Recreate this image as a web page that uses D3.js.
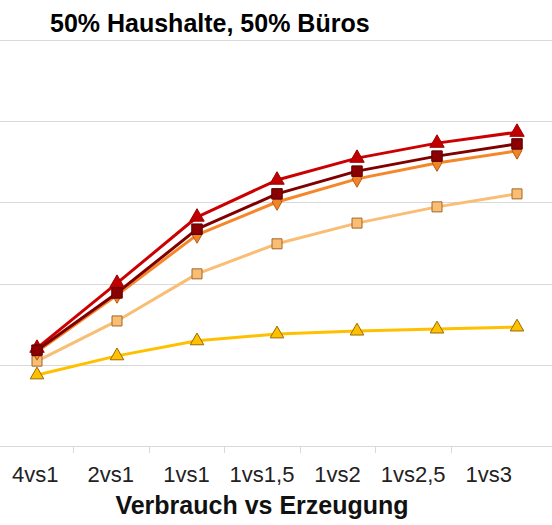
<!DOCTYPE html>
<html lang="de">
<head>
  <meta charset="UTF-8">
  <title>50% Haushalte, 50% Büros</title>
  <script src="https://cdn.jsdelivr.net/npm/d3@7"></script>
  <style>
    body { margin: 0; background: #fff; }
    svg { display: block; font-family: "Liberation Sans", Arial, sans-serif; }
    .grid line { stroke: #d9d9d9; stroke-width: 1; }
    .x-label { font-size: 22px; fill: #222; text-anchor: middle; }
  </style>
</head>
<body>
  <div id="chart"></div>
  <script>
    // Data
    const categories = ['4vs1', '2vs1', '1vs1', '1vs1,5', '1vs2', '1vs2,5', '1vs3'];
    const redTriangle = [24.1, 40.1, 56.4, 65.5, 70.9, 74.6, 77.3];
    const darkRedSquare = [23.6, 37.7, 53.4, 62.1, 67.7, 71.4, 74.4];
    const orangeDiamond = [23.2, 37.2, 52.0, 60.1, 65.8, 69.7, 72.7];
    const lightSquare = [20.9, 30.8, 42.4, 49.8, 54.9, 58.9, 62.1];
    const yellowTriangle = [17.5, 22.2, 25.9, 27.6, 28.3, 28.8, 29.3];
    const gridTicks = [0, 20, 40, 60, 80, 100];

    const width = 552, height = 525;

    // drawing order: bottom first
    const series = [
      { values: yellowTriangle, color: '#ffc000', fill: '#ffc000', stroke: '#9a6a00', symbol: d3.symbolTriangle, size: 80 },
      { values: lightSquare, color: '#f9bd73', fill: '#f9bd73', stroke: '#a0662a', symbol: d3.symbolSquare, size: 100 },
      { values: orangeDiamond, color: '#f5862a', fill: '#f08426', stroke: '#b85a12', symbol: d3.symbolDiamond, size: 80 },
      { values: redTriangle, color: '#cc0000', fill: '#c00000', stroke: '#a00000', symbol: d3.symbolTriangle, size: 90 },
      { values: darkRedSquare, color: '#800000', fill: '#8b0000', stroke: '#5a0000', symbol: d3.symbolSquare, size: 110 }
    ];

    const svg = d3.select('#chart').append('svg')
      .attr('width', width)
      .attr('height', height);

    const y = d3.scaleLinear().domain([0, 100]).range([446, 40]);
    // axis categories and plotted points are spaced a bit differently in the original
    const xAxis = d3.scaleBand().domain(categories).range([-2.5, 526.5]);
    const xPts = d3.scaleBand().domain(categories).range([-3, 557]);

    // gridlines
    svg.append('g').attr('class', 'grid')
      .selectAll('line')
      .data(gridTicks)
      .enter().append('line')
        .attr('x1', 0).attr('x2', width)
        .attr('y1', d => Math.round(y(d)) + 0.5)
        .attr('y2', d => Math.round(y(d)) + 0.5);

    // x axis ticks between categories
    svg.append('g').attr('class', 'grid')
      .selectAll('line')
      .data(categories.slice(1))
      .enter().append('line')
        .attr('x1', d => Math.round(xAxis(d)) + 0.5)
        .attr('x2', d => Math.round(xAxis(d)) + 0.5)
        .attr('y1', 446).attr('y2', 453);

    svg.append('g')
      .selectAll('text')
      .data(categories)
      .enter().append('text')
        .attr('class', 'x-label')
        .attr('x', d => xAxis(d) + xAxis.bandwidth() / 2)
        .attr('y', 482)
        .text(d => d);

    // lines and markers
    const line = d3.line()
      .x((d, i) => xPts(categories[i]) + xPts.bandwidth() / 2)
      .y(d => y(d));

    series.forEach(s => {
      svg.append('path')
        .datum(s.values)
        .attr('d', line)
        .attr('fill', 'none')
        .attr('stroke', s.color)
        .attr('stroke-width', 3)
        .attr('stroke-linejoin', 'round');
    });

    series.forEach(s => {
      svg.append('g')
        .selectAll('path')
        .data(s.values)
        .enter().append('path')
          .attr('transform', (d, i) => `translate(${xPts(categories[i]) + xPts.bandwidth() / 2},${y(d)})`)
          .attr('d', d3.symbol().type(s.symbol).size(s.size))
          .attr('fill', s.fill)
          .attr('stroke', s.stroke)
          .attr('stroke-width', 1);
    });

    // title and axis title
    svg.append('text')
      .attr('x', 50).attr('y', 32)
      .attr('font-size', 25).attr('font-weight', 'bold')
      .attr('fill', '#000')
      .text('50% Haushalte, 50% Büros');

    svg.append('text')
      .attr('x', 262).attr('y', 514)
      .attr('text-anchor', 'middle')
      .attr('font-size', 25).attr('font-weight', 'bold')
      .attr('fill', '#111')
      .text('Verbrauch vs Erzeugung');
  </script>
</body>
</html>
